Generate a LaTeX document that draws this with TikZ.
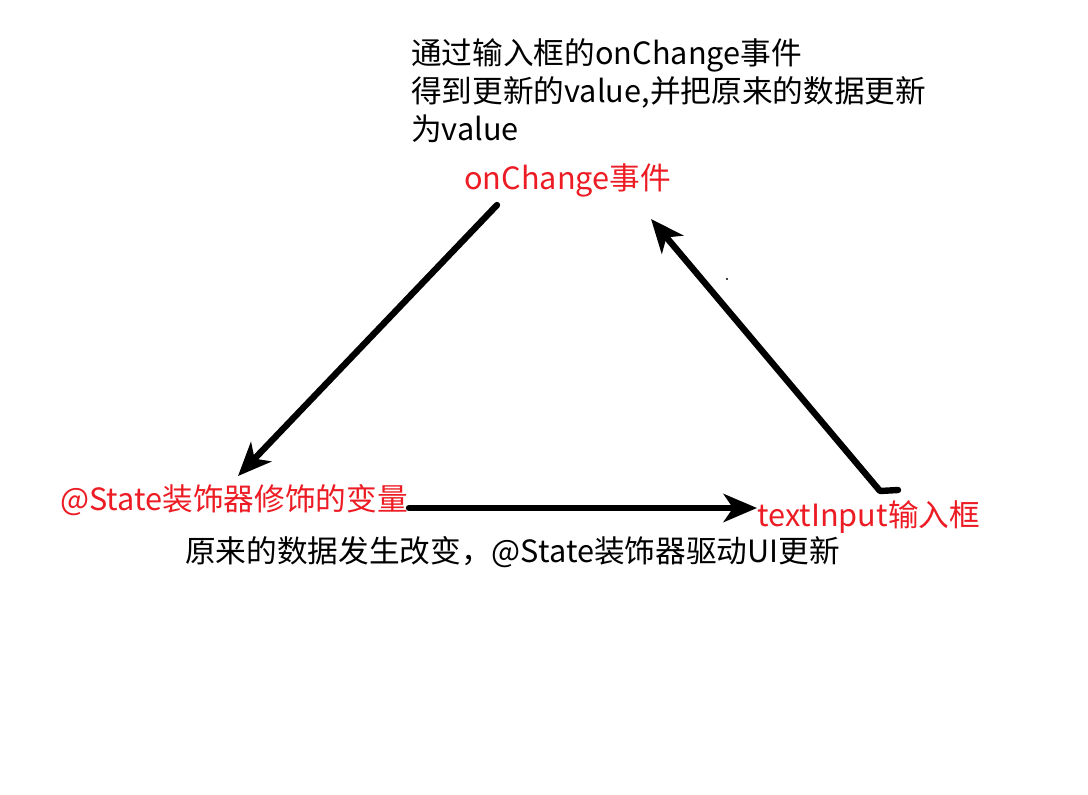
\documentclass[tikz,border=0pt]{standalone}
\usepackage{fontspec}
\setmainfont{Noto Sans CJK SC}
\usepackage{xcolor}
\usetikzlibrary{arrows.meta}
\definecolor{labelred}{RGB}{237,28,36}
\tikzset{
  note/.style={anchor=base west,inner sep=0pt,font=\fontsize{23}{28.5}\selectfont},
  rednote/.style={note,text=labelred},
  bigarrow/.style={line width=4.8pt,line cap=round,line join=round,-{Stealth[length=25pt,width=21pt,inset=7pt]}}
}

\begin{document}
\begin{tikzpicture}[x=0.75pt,y=0.75pt,yscale=-1,xscale=1]
\useasboundingbox (0,0) rectangle (1088,794);
\fill [white] (0,0) rectangle (1088,794);

% Text Node
\draw (411,140) node [note,align=left] (desc) {通过输入框的onChange事件\\得到更新的value,并把原来的数据更新\\为value};
% Text Node
\draw (464,189) node [rednote] (change) {onChange事件};
% Text Node
\draw (60,510) node [rednote] (state) {@State装饰器修饰的变量};
% Text Node
\draw (757,526) node [rednote] (input) {textInput输入框};
% Text Node
\draw (185,562) node [note] (update) {原来的数据发生改变，@State装饰器驱动UI更新};

%Straight Lines
\coordinate (c1) at (497,205);
\coordinate (c2) at (238,476);
\draw [bigarrow] (c1) -- (c2);
%Straight Lines
\coordinate (s1) at (409,508);
\coordinate (s2) at (757,508);
\draw [bigarrow] (s1) -- (s2);
%Straight Lines
\coordinate (i0) at (898,490);
\coordinate (i1) at (880,491);
\coordinate (i2) at (651,219);
\draw [bigarrow] (i0) -- (i1) -- (i2);
%Dot
\fill (727,279) circle (1.2);

\end{tikzpicture}
\end{document}
